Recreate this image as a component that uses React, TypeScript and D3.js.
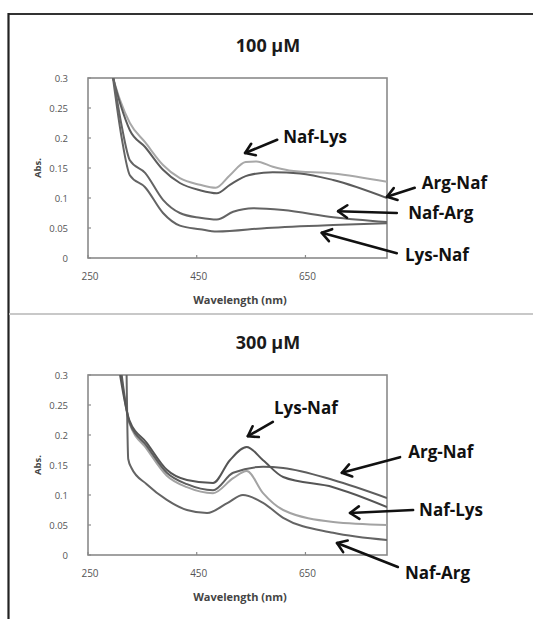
import React from 'react'
import * as d3 from 'd3'

// Absorbance spectra: [wavelength nm, Abs.]
const top_nafLys = [[296, 0.3], [309, 0.263], [327, 0.225], [355, 0.193], [388, 0.155], [419, 0.133], [456, 0.122], [485, 0.117], [511, 0.138], [540, 0.16], [560, 0.161], [590, 0.152], [620, 0.146], [701, 0.141], [800, 0.127]]
const top_argNaf = [[296, 0.3], [310, 0.255], [327, 0.213], [355, 0.185], [388, 0.147], [419, 0.125], [456, 0.113], [487, 0.108], [511, 0.122], [545, 0.138], [590, 0.143], [640, 0.141], [701, 0.13], [800, 0.1]]
const top_nafArg = [[297, 0.3], [312, 0.22], [327, 0.163], [355, 0.142], [388, 0.097], [419, 0.075], [456, 0.067], [487, 0.064], [517, 0.077], [554, 0.083], [609, 0.08], [701, 0.068], [800, 0.06]]
const top_lysNaf = [[296, 0.3], [312, 0.2], [327, 0.138], [355, 0.118], [388, 0.075], [419, 0.054], [456, 0.048], [487, 0.044], [579, 0.05], [701, 0.055], [800, 0.058]]

const bot_lysNaf = [[309, 0.3], [326, 0.225], [358, 0.187], [395, 0.142], [432, 0.125], [480, 0.12], [511, 0.158], [542, 0.18], [572, 0.158], [609, 0.13], [701, 0.113], [800, 0.08]]
const bot_argNaf = [[312, 0.3], [326, 0.222], [358, 0.182], [395, 0.137], [432, 0.118], [480, 0.108], [517, 0.137], [572, 0.147], [609, 0.145], [701, 0.125], [800, 0.095]]
const bot_nafLys = [[311, 0.3], [326, 0.22], [358, 0.177], [395, 0.132], [432, 0.113], [480, 0.103], [517, 0.128], [542, 0.14], [572, 0.103], [609, 0.075], [701, 0.055], [800, 0.05]]
const bot_nafArg = [[321, 0.3], [324, 0.16], [330, 0.145], [358, 0.118], [395, 0.092], [432, 0.075], [469, 0.07], [507, 0.087], [535, 0.1], [572, 0.087], [609, 0.062], [701, 0.037], [800, 0.025]]

const xTicks = [250, 450, 650]
const yTicks = [0, 0.05, 0.1, 0.15, 0.2, 0.25, 0.3]
const yTickLabels = ['0', '0.05', '0.1', '0.15', '0.2', '0.25', '0.3']

// label: text anchor point and arrow tail/tip, in data units
const panels = [
  {
    title: '100 µM',
    top: 78,
    series: [
      { data: top_nafLys, color: '#a8a8a8' },
      { data: top_argNaf, color: '#5c5c5c' },
      { data: top_nafArg, color: '#646464' },
      { data: top_lysNaf, color: '#646464' },
    ],
    notes: [
      { text: 'Naf-Lys', at: [609, 0.202], tail: [598, 0.197], tip: [539, 0.175] },
      { text: 'Arg-Naf', at: [864, 0.125], tail: [851, 0.117], tip: [800, 0.102] },
      { text: 'Naf-Arg', at: [839, 0.075], tail: [818, 0.075], tip: [710, 0.078] },
      { text: 'Lys-Naf', at: [833, 0.005], tail: [818, 0.008], tip: [680, 0.042] },
    ],
  },
  {
    title: '300 µM',
    top: 375,
    series: [
      { data: bot_nafLys, color: '#a3a3a3' },
      { data: bot_nafArg, color: '#646464' },
      { data: bot_argNaf, color: '#5e5e5e' },
      { data: bot_lysNaf, color: '#555555' },
    ],
    notes: [
      { text: 'Lys-Naf', at: [592, 0.245], tail: [590, 0.222], tip: [544, 0.198] },
      { text: 'Arg-Naf', at: [839, 0.172], tail: [824, 0.163], tip: [717, 0.137] },
      { text: 'Naf-Lys', at: [859, 0.075], tail: [848, 0.075], tip: [732, 0.07] },
      { text: 'Naf-Arg', at: [833, -0.03], tail: [820, -0.02], tip: [708, 0.02] },
    ],
  },
]

const left = 88
const right = 387
const plotH = 180
const font = "'Open Sans', 'DejaVu Sans', sans-serif"

function Arrow({ x1, y1, x2, y2 }: { x1: number; y1: number; x2: number; y2: number }) {
  const a = Math.atan2(y1 - y2, x1 - x2)
  const len = 11
  const spread = 0.6
  const p1 = [x2 + len * Math.cos(a + spread), y2 + len * Math.sin(a + spread)]
  const p2 = [x2 + len * Math.cos(a - spread), y2 + len * Math.sin(a - spread)]
  return (
    <g stroke="#111" strokeWidth={2.6} fill="none" strokeLinecap="round" strokeLinejoin="round">
      <line x1={x1} y1={y1} x2={x2} y2={y2} />
      <polyline points={`${p1[0]},${p1[1]} ${x2},${y2} ${p2[0]},${p2[1]}`} />
    </g>
  )
}

function Panel({ p, idx }: { p: any; idx: number }) {
  const x = d3.scaleLinear().domain([250, 800]).range([left, right])
  const y = d3.scaleLinear().domain([0, 0.3]).range([p.top + plotH, p.top])
  const line = d3
    .line<number[]>()
    .x((d) => x(d[0]))
    .y((d) => y(d[1]))
    .curve(d3.curveMonotoneX)
  const clipId = 'clip' + idx
  return (
    <g>
      <text x={268} y={p.top - 26} textAnchor="middle" fontFamily={font} fontWeight="bold" fontSize={18} fill="#1a1a1a">
        {p.title}
      </text>
      <clipPath id={clipId}>
        <rect x={left} y={p.top} width={right - left} height={plotH} />
      </clipPath>
      <rect x={left} y={p.top} width={right - left} height={plotH} fill="none" stroke="#8a8a8a" strokeWidth={1.6} />
      {yTicks.map((t, i) => (
        <g key={t}>
          <line x1={left} x2={left + 3} y1={y(t)} y2={y(t)} stroke="#8a8a8a" strokeWidth={1.2} />
          <text x={left - 20} y={y(t) + 3.5} textAnchor="end" fontFamily={font} fontSize={9.5} fill="#555">
            {yTickLabels[i]}
          </text>
        </g>
      ))}
      {xTicks.map((t) => (
        <g key={t}>
          <line x1={x(t)} x2={x(t)} y1={p.top + plotH} y2={p.top + plotH - 3} stroke="#8a8a8a" strokeWidth={1.2} />
          <text x={x(t) + 2} y={p.top + plotH + 22} textAnchor="middle" fontFamily={font} fontSize={10} fill="#555">
            {t}
          </text>
        </g>
      ))}
      <text x={240} y={p.top + plotH + 46} textAnchor="middle" fontFamily={font} fontWeight="bold" fontSize={11} fill="#444">
        Wavelength (nm)
      </text>
      <text
        transform={`translate(${41},${y(0.15)}) rotate(-90)`}
        textAnchor="middle"
        fontFamily={font}
        fontWeight="bold"
        fontSize={9.5}
        fill="#444"
      >
        Abs.
      </text>
      <g clipPath={`url(#${clipId})`}>
        {p.series.map((s: any, i: number) => (
          <path key={i} d={line(s.data) || ''} fill="none" stroke={s.color} strokeWidth={2} />
        ))}
      </g>
      {p.notes.map((n: any) => (
        <g key={n.text}>
          <Arrow x1={x(n.tail[0])} y1={y(n.tail[1])} x2={x(n.tip[0])} y2={y(n.tip[1])} />
          <text x={x(n.at[0])} y={y(n.at[1]) + 6} fontFamily={font} fontWeight="bold" fontSize={17} fill="#111">
            {n.text}
          </text>
        </g>
      ))}
    </g>
  )
}

export default function App() {
  return (
    <svg width={533} height={619} style={{ position: 'absolute', left: 0, top: 0, background: '#fff' }}>
      <rect width={533} height={619} fill="#fff" />
      <line x1={8.5} x2={533} y1={14} y2={14} stroke="#333" strokeWidth={2.2} />
      <line x1={8.5} x2={8.5} y1={13} y2={619} stroke="#222" strokeWidth={2.2} />
      <line x1={9} x2={533} y1={314} y2={314} stroke="#c8c8c8" strokeWidth={2} />
      {panels.map((p, i) => (
        <Panel key={i} p={p} idx={i} />
      ))}
    </svg>
  )
}
